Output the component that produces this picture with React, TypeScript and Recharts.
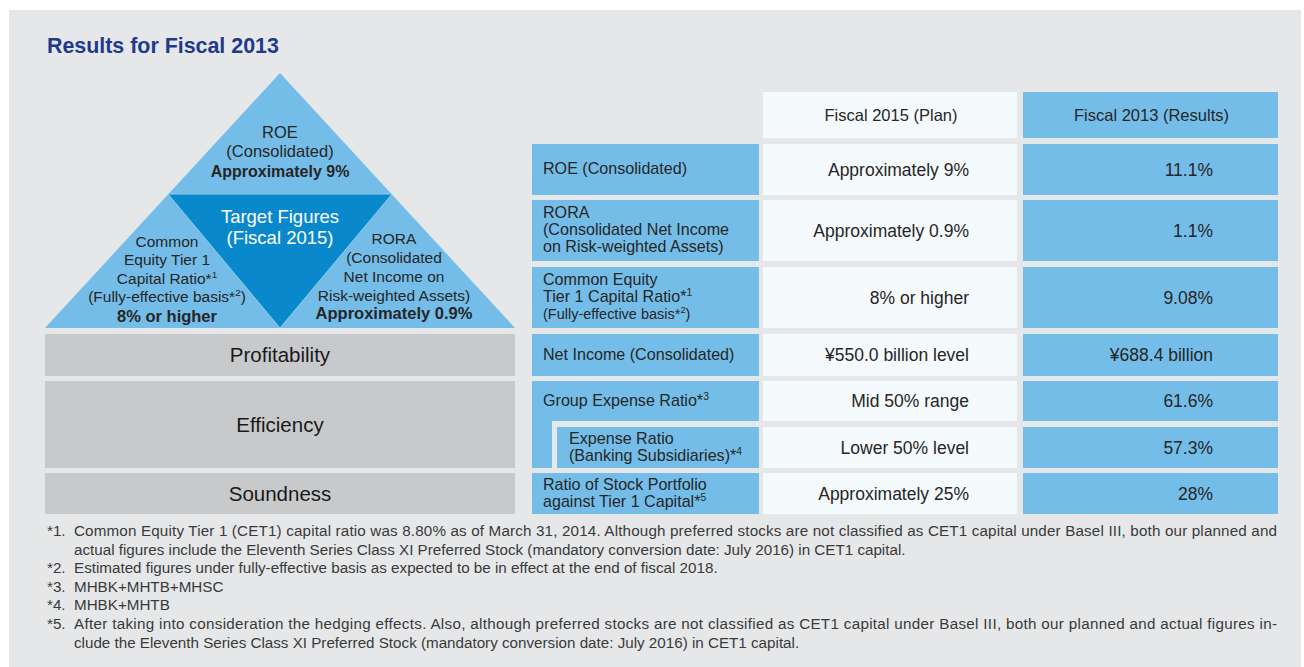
import { ComposedChart, XAxis, YAxis, ReferenceArea } from "recharts";

const W = 1304;
const H = 667;

const title = "Results for Fiscal 2013";

// pyramid of targets
const roeTarget = ["ROE", "(Consolidated)"];
const roeValue = "Approximately 9%";
const centerLabel = ["Target Figures", "(Fiscal 2015)"];
const cetTarget = ["Common", "Equity Tier 1", "Capital Ratio*^1", "(Fully-effective basis*^2)"];
const cetValue = "8% or higher";
const roraTarget = ["RORA", "(Consolidated", "Net Income on", "Risk-weighted Assets)"];
const roraValue = "Approximately 0.9%";

const pillars = ["Profitability", "Efficiency", "Soundness"];

// table
const columnHeaders = ["Fiscal 2015 (Plan)", "Fiscal 2013 (Results)"];
const metrics = [
  ["ROE (Consolidated)"],
  ["RORA", "(Consolidated Net Income", "on Risk-weighted Assets)"],
  ["Common Equity", "Tier 1 Capital Ratio*^1", "(Fully-effective basis*^2)"],
  ["Net Income (Consolidated)"],
  ["Group Expense Ratio*^3"],
  ["Expense Ratio", "(Banking Subsidiaries)*^4"],
  ["Ratio of Stock Portfolio", "against Tier 1 Capital*^5"],
];
const planValues = [
  "Approximately 9%",
  "Approximately 0.9%",
  "8% or higher",
  "¥550.0 billion level",
  "Mid 50% range",
  "Lower 50% level",
  "Approximately 25%",
];
const resultValues = ["11.1%", "1.1%", "9.08%", "¥688.4 billion", "61.6%", "57.3%", "28%"];

const footnoteMarks = ["*1.", "", "*2.", "*3.", "*4.", "*5.", ""];
const footnoteTexts = [
  "Common Equity Tier 1 (CET1) capital ratio was 8.80% as of March 31, 2014. Although preferred stocks are not classified as CET1 capital under Basel III, both our planned and",
  "actual figures include the Eleventh Series Class XI Preferred Stock (mandatory conversion date: July 2016) in CET1 capital.",
  "Estimated figures under fully-effective basis as expected to be in effect at the end of fiscal 2018.",
  "MHBK+MHTB+MHSC",
  "MHBK+MHTB",
  "After taking into consideration the hedging effects. Also, although preferred stocks are not classified as CET1 capital under Basel III, both our planned and actual figures in-",
  "clude the Eleventh Series Class XI Preferred Stock (mandatory conversion date: July 2016) in CET1 capital.",
];
const justifiedLines = [0, 5];

const FONT = "'Liberation Sans', Arial, sans-serif";
const LIGHT_BLUE = "#74bde8";
const DARK_BLUE = "#0a88cc";
const PANEL = "#e6e7e8";
const PILLAR = "#c8c9cb";
const PLAN_BG = "#f5fafd";
const INK = "#262626";

// layout of the table rows (pixel bands)
const rowBands: [number, number][] = [
  [144, 195],
  [200, 261],
  [267, 328],
  [334, 376],
  [381, 421],
  [427, 468],
  [473, 514],
];
const pillarBands: [number, number][] = [
  [334, 376],
  [381, 468],
  [473, 514],
];

function Rich({ x, y, text, size, fill, anchor = "start", weight = 400 }: any) {
  const parts = text.split(/\^(\d)/);
  const up = size * 0.4;
  return (
    <text x={x} y={y} fontSize={size} fill={fill} textAnchor={anchor} fontWeight={weight} fontFamily={FONT}>
      {parts.map((p: string, i: number) =>
        i % 2 === 1 ? (
          <tspan key={i} fontSize={size * 0.64} dy={-up}>
            {p}
          </tspan>
        ) : (
          <tspan key={i} dy={i > 0 ? up : 0}>
            {p}
          </tspan>
        )
      )}
    </text>
  );
}

function Lines({ x, cy, lines, size, gap, anchor, fill, weight, smallFirst }: any) {
  const n = lines.length;
  return (
    <g>
      {lines.map((ln: string, i: number) => {
        const small = smallFirst && ln.startsWith("(Fully");
        const s = small ? size * 0.9 : size;
        const y = cy + (i - (n - 1) / 2) * gap + s * 0.36;
        return <Rich key={i} x={x} y={y} text={ln} size={s} fill={fill} anchor={anchor} weight={weight} />;
      })}
    </g>
  );
}

const panelShape = (p: any) => (
  <g>
    <rect x={p.x} y={p.y} width={p.width} height={p.height} fill={PANEL} />
    <text x={47} y={53} fontSize={21.4} fontWeight={700} fill="#1f3a8c" fontFamily={FONT}>
      {title}
    </text>
    {footnoteTexts.map((t, i) => {
      const y = 536 + i * 18.6;
      const just = justifiedLines.includes(i);
      return (
        <g key={i}>
          <text x={47} y={y} fontSize={15.2} fill="#3a3a3a" fontFamily={FONT}>
            {footnoteMarks[i]}
          </text>
          <text
            x={74}
            y={y}
            fontSize={15.2}
            fill="#3a3a3a"
            fontFamily={FONT}
            textLength={just ? 1203 : undefined}
            lengthAdjust="spacing"
          >
            {t}
          </text>
        </g>
      );
    })}
  </g>
);

const triangleShape = (p: any) => {
  const { x, y, width, height } = p;
  const pts = `${x + width / 2},${y} ${x + width},${y + height} ${x},${y + height}`;
  return (
    <g>
      <polygon points={pts} fill={LIGHT_BLUE} />
      <Lines x={x + width / 2} cy={y + 69} lines={roeTarget} size={16.5} gap={19} anchor="middle" fill={INK} />
      <Rich x={x + width / 2} y={y + 98 + 5.5} text={roeValue} size={16} fill={INK} anchor="middle" weight={700} />
      <Lines x={x + 122} cy={y + 196} lines={cetTarget} size={15.5} gap={18.5} anchor="middle" fill={INK} />
      <Rich x={x + 122} y={y + 243 + 5.5} text={cetValue} size={16.5} fill={INK} anchor="middle" weight={700} />
      <Lines x={x + 349} cy={y + 194} lines={roraTarget} size={15.5} gap={18.8} anchor="middle" fill={INK} />
      <Rich x={x + 349} y={y + 240 + 5.5} text={roraValue} size={16.5} fill={INK} anchor="middle" weight={700} />
    </g>
  );
};

const innerShape = (p: any) => {
  const { x, y, width, height } = p;
  const pts = `${x},${y} ${x + width},${y} ${x + width / 2},${y + height}`;
  return (
    <g>
      <polygon points={pts} fill={DARK_BLUE} stroke="#8fcaee" strokeWidth={1} />
      <Lines x={x + width / 2} cy={y + 33} lines={centerLabel} size={18.5} gap={21} anchor="middle" fill="#ffffff" />
    </g>
  );
};

const pillarShape = (label: string) => (p: any) => (
  <g>
    <rect x={p.x} y={p.y} width={p.width} height={p.height} fill={PILLAR} />
    <text
      x={p.x + p.width / 2}
      y={p.y + p.height / 2 + 7}
      fontSize={20.5}
      fill="#1a1a1a"
      textAnchor="middle"
      fontFamily={FONT}
    >
      {label}
    </text>
  </g>
);

const headerShape = (label: string, bg: string) => (p: any) => (
  <g>
    <rect x={p.x} y={p.y} width={p.width} height={p.height} fill={bg} />
    <text
      x={p.x + p.width / 2 + 1}
      y={p.y + p.height / 2 + 6}
      fontSize={16.5}
      fill={INK}
      textAnchor="middle"
      fontFamily={FONT}
    >
      {label}
    </text>
  </g>
);

const labelShape = (lines: string[], padX: number) => (p: any) => (
  <g>
    <rect x={p.x} y={p.y} width={p.width} height={p.height} fill={LIGHT_BLUE} />
    <Lines
      x={p.x + padX}
      cy={p.y + p.height / 2 - 0.8}
      lines={lines}
      size={16.1}
      gap={17}
      anchor="start"
      fill={INK}
      smallFirst
    />
  </g>
);

const valueShape = (value: string, bg: string, rightPad: number) => (p: any) => (
  <g>
    <rect x={p.x} y={p.y} width={p.width} height={p.height} fill={bg} />
    <text
      x={p.x + p.width - rightPad}
      y={p.y + p.height / 2 + 6.3}
      fontSize={17.5}
      fill={INK}
      textAnchor="end"
      fontFamily={FONT}
    >
      {value}
    </text>
  </g>
);

const plainShape = (bg: string) => (p: any) => (
  <rect x={p.x} y={p.y} width={p.width} height={p.height} fill={bg} />
);

export default function App() {
  return (
    <div style={{ width: W, height: H, background: "#ffffff" }}>
      <style>{"body{margin:0}"}</style>
      <ComposedChart width={W} height={H} margin={{ top: 0, right: 0, bottom: 0, left: 0 }} data={[{ x: 0, y: 0 }]}>
        <XAxis type="number" dataKey="x" domain={[0, W]} hide allowDataOverflow />
        <YAxis type="number" dataKey="y" domain={[0, H]} reversed hide allowDataOverflow />

        <ReferenceArea x1={9} x2={1301} y1={10} y2={H} ifOverflow="visible" shape={panelShape} />

        {/* pyramid */}
        <ReferenceArea x1={45} x2={515} y1={73} y2={328} ifOverflow="visible" shape={triangleShape} />
        <ReferenceArea x1={168} x2={392} y1={194} y2={328} ifOverflow="visible" shape={innerShape} />

        {pillars.map((name, i) => (
          <ReferenceArea
            key={name}
            x1={45}
            x2={515}
            y1={pillarBands[i][0]}
            y2={pillarBands[i][1]}
            ifOverflow="visible"
            shape={pillarShape(name)}
          />
        ))}

        {/* table header */}
        <ReferenceArea x1={763} x2={1017} y1={92} y2={138} ifOverflow="visible" shape={headerShape(columnHeaders[0], PLAN_BG)} />
        <ReferenceArea x1={1023} x2={1278} y1={92} y2={138} ifOverflow="visible" shape={headerShape(columnHeaders[1], LIGHT_BLUE)} />

        {/* bracket strip joining group expense ratio and its sub-row */}
        <ReferenceArea x1={532} x2={552} y1={381} y2={468} ifOverflow="visible" shape={plainShape(LIGHT_BLUE)} />

        {metrics.map((lines, i) => {
          const sub = i === 5;
          return (
            <ReferenceArea
              key={`m${i}`}
              x1={sub ? 557 : 532}
              x2={759}
              y1={rowBands[i][0]}
              y2={rowBands[i][1]}
              ifOverflow="visible"
              shape={labelShape(lines, sub ? 12 : 11)}
            />
          );
        })}
        {planValues.map((v, i) => (
          <ReferenceArea
            key={`p${i}`}
            x1={763}
            x2={1017}
            y1={rowBands[i][0]}
            y2={rowBands[i][1]}
            ifOverflow="visible"
            shape={valueShape(v, PLAN_BG, 48)}
          />
        ))}
        {resultValues.map((v, i) => (
          <ReferenceArea
            key={`r${i}`}
            x1={1023}
            x2={1278}
            y1={rowBands[i][0]}
            y2={rowBands[i][1]}
            ifOverflow="visible"
            shape={valueShape(v, LIGHT_BLUE, 65)}
          />
        ))}
      </ComposedChart>
    </div>
  );
}
